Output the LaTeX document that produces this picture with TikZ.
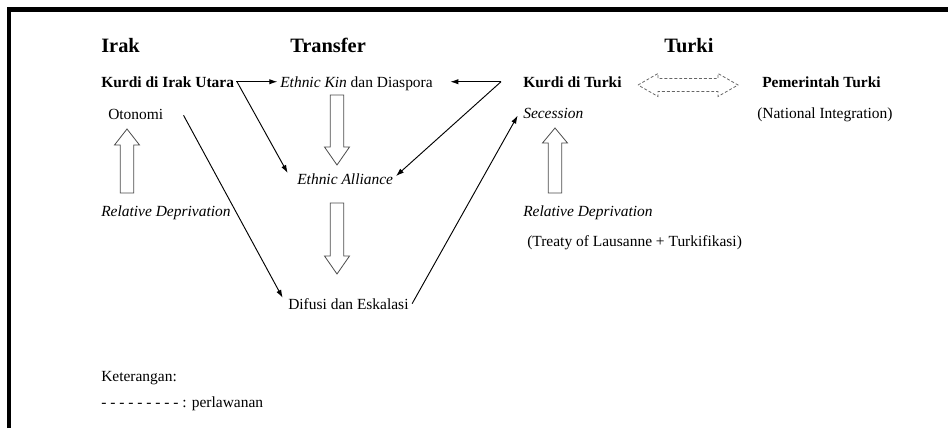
\documentclass[tikz,border=0pt]{standalone}
\usepackage{fontspec}
\setmainfont{Liberation Serif}
\usetikzlibrary{arrows.meta}
\newcommand\harrowshape[4]{\draw[hollow] (#1-6.75,#2) -- (#1-6.75,#3) -- (#1-12.5,#3) -- (#1,#4) -- (#1+12.5,#3) -- (#1+6.75,#3) -- (#1+6.75,#2) -- cycle;}
\begin{document}
\begin{tikzpicture}[x=0.75pt,y=-0.75pt,
  txt/.style={anchor=base west,inner sep=0pt,font=\fontsize{11.6}{14}\selectfont},
  ttl/.style={anchor=base west,inner sep=0pt,font=\fontsize{15.3}{18}\selectfont\bfseries},
  conn/.style={line width=0.7pt,-{Latex[length=6pt,width=4pt]}},
  hollow/.style={draw=black!70,line width=0.6pt,fill=white},
  dhollow/.style={draw=black!60,line width=0.6pt,dash pattern=on 2.2pt off 1.5pt}]
\useasboundingbox (0,0) rectangle (948,428);
\draw[line width=3.2pt] (9,428) -- (9,9.5) -- (948,9.5);

% titles
\node[ttl] (irak) at (101,53) {Irak};
\node[ttl] (transfer) at (290,53) {Transfer};
\node[ttl] (turki) at (664,53) {Turki};

% texts
\node[txt] (kiu) at (101,87) {\textbf{Kurdi di Irak Utara}};
\node[txt] (ek) at (280,87) {\textit{Ethnic Kin} dan Diaspora};
\node[txt] (kt) at (523,87) {\textbf{Kurdi di Turki}};
\node[txt] (pt) at (762,87) {\textbf{Pemerintah Turki}};
\node[txt] (oto) at (108,119) {Otonomi};
\node[txt] (sec) at (523,118) {\textit{Secession}};
\node[txt] (ni) at (757,118) {(National Integration)};
\node[txt] (ea) at (297,184) {\textit{Ethnic Alliance}};
\node[txt] (rdl) at (101,216) {\textit{Relative Deprivation}};
\node[txt] (rdr) at (523,216) {\textit{Relative Deprivation}};
\node[txt] (tol) at (527,246) {(Treaty of Lausanne + Turkifikasi)};
\node[txt] (dif) at (288,309) {Difusi dan Eskalasi};
\node[txt] (ket) at (101,381) {Keterangan:};
\node[txt] (leg) at (101,407) {- - - - - - - - - : perlawanan};

% connectors
\draw[conn] ([xshift=1.5pt]kiu.east) -- ([xshift=-2pt]kiu.east -| ek.west);
\draw[conn] ([xshift=2pt]kiu.east) -- ([xshift=-7pt]ea.north west);
\coordinate (j) at ([xshift=-16.5pt]kt.west);
\draw[conn] (j) -- ([xshift=13pt]j -| ek.east);
\draw[conn] (j) -- ([xshift=2pt,yshift=2pt]ea.east);
\draw[conn] ([xshift=15pt,yshift=-1pt]oto.east) -- ([xshift=-4pt]dif.north west);
\draw[conn] ([xshift=2.5pt]dif.east) -- ([xshift=-4pt,yshift=-2pt]sec.west);

% hollow arrows
\harrowshape{127}{193}{145}{129}
\harrowshape{337}{95}{147}{165}
\harrowshape{337}{203}{256}{274}
\harrowshape{555}{193}{143}{128}

% dashed double arrow
\draw[dhollow] (638,85) -- (658,73.5) -- (658,78.5) -- (718,78.5) -- (718,73.5) -- (738,85) -- (718,96.5) -- (718,91.5) -- (658,91.5) -- (658,96.5) -- cycle;
\end{tikzpicture}
\end{document}
